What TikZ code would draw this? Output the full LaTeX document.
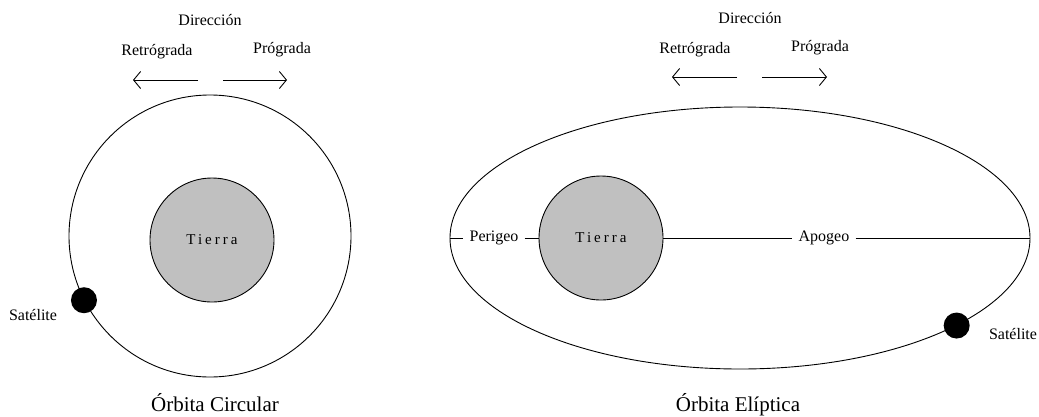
\documentclass[tikz,border=0pt]{standalone}
\usepackage{fontspec}
\setmainfont{Liberation Serif}
\newfontfamily\espaciada[LetterSpace=20]{Liberation Serif}
\usepackage{tikz}
\usetikzlibrary{positioning,calc,shapes.geometric,arrows.meta}
\definecolor{grisTierra}{RGB}{192,192,192}

\begin{document}
\begin{tikzpicture}[
	x=1pt, y=-1pt,
	every node/.style={inner sep=0pt},
	% Style para las órbitas
	orbita/.style={draw=black, line width=0.9pt},
	% Style para la Tierra (círculo gris)
	tierra/.style={
		circle, draw=black, line width=0.9pt, fill=grisTierra,
		minimum size=124pt, font=\espaciada\fontsize{15}{18}\selectfont
	},
	% Style para el satélite (punto negro)
	satelite/.style={circle, fill=black, minimum size=26pt},
	% Style para los textos pequeños
	etiqueta/.style={font=\fontsize{16}{19}\selectfont, inner sep=6pt},
	% Style para los títulos de abajo
	titulo/.style={font=\fontsize{21}{25}\selectfont},
	% Style para las flechas de dirección
	flecha/.style={line width=0.9pt, -{Straight Barb[length=7pt, width=17pt, line width=0.9pt]}}
	]
	\useasboundingbox (0,0) rectangle (1039,416);
	
	% Órbita circular (izquierda)
	\node[orbita, circle, minimum size=282pt] (orbC) at (210,236) {};
	\node[tierra] (tierraC) at (212,240) {Tierra};
	\node[satelite] (satC) at (orbC.207) {};
	\node[etiqueta] (lblSatC) at (33,315) {Satélite};
	\node[titulo] (titC) at (215,403) {Órbita Circular};
	
	% Dirección (izquierda)
	\node[etiqueta] (dirC) at (210,20) {Dirección};
	\node[etiqueta] (retroC) at (157,52) {Retrógrada};
	\node[etiqueta] (progC) at (282,50) {Prógrada};
	\coordinate (retroC1) at (198,80);
	\coordinate (retroC2) at (133,80);
	\coordinate (progC1) at (223,80);
	\coordinate (progC2) at (287,80);
	\draw[flecha] (retroC1) -- (retroC2);
	\draw[flecha] (progC1) -- (progC2);
	
	% Órbita elíptica (derecha)
	\node[orbita, ellipse, minimum width=580pt, minimum height=262pt] (orbE) at (740,238) {};
	\node[tierra] (tierraE) at (601,238) {Tierra};
	\node[satelite] (satE) at (orbE.-22) {};
	\node[etiqueta] (lblSatE) at (1013,334) {Satélite};
	\node[titulo] (titE) at (738,405) {Órbita Elíptica};
	
	% Perigeo y Apogeo sobre el eje mayor
	\node[etiqueta] (peri) at ($(orbE.west)!0.5!(tierraE.west)$) {Perigeo};
	\node[etiqueta] (apo) at (824,238) {Apogeo};
	\draw[line width=0.9pt] (orbE.west) -- (peri);
	\draw[line width=0.9pt] (peri) -- (tierraE.west);
	\draw[line width=0.9pt] (tierraE.east) -- (apo);
	\draw[line width=0.9pt] (apo) -- (orbE.east);
	
	% Dirección (derecha)
	\node[etiqueta] (dirE) at (750,18) {Dirección};
	\node[etiqueta] (retroE) at (695,50) {Retrógrada};
	\node[etiqueta] (progE) at (820,48) {Prógrada};
	\coordinate (retroE1) at (737,77);
	\coordinate (retroE2) at (672,77);
	\coordinate (progE1) at (762,77);
	\coordinate (progE2) at (827,77);
	\draw[flecha] (retroE1) -- (retroE2);
	\draw[flecha] (progE1) -- (progE2);
	
\end{tikzpicture}
\end{document}
